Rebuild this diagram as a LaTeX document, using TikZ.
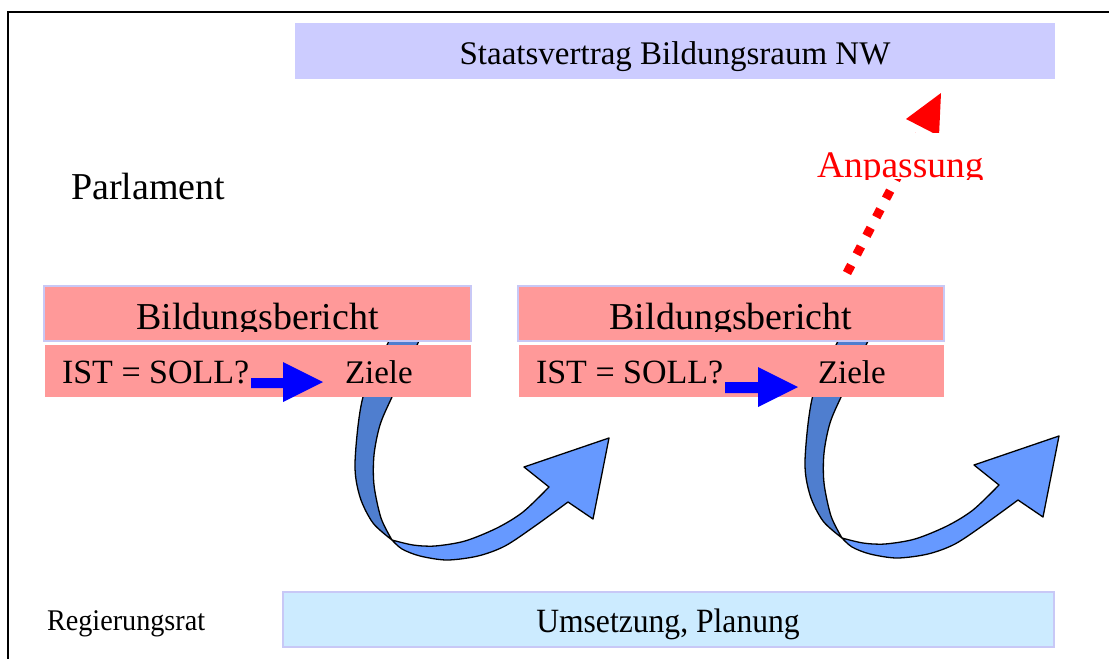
\documentclass[tikz,border=0pt]{standalone}
\usepackage{fontspec}
\setmainfont{Liberation Serif}
\definecolor{lav}{HTML}{CCCCFF}
\definecolor{lavline}{HTML}{C8C8F6}
\definecolor{pinkbox}{HTML}{FF9999}
\definecolor{cyanbox}{HTML}{CCEBFF}
\definecolor{ribdark}{HTML}{4F7ECF}
\definecolor{riblight}{HTML}{6699FF}
\begin{document}
\begin{tikzpicture}[x=1pt,y=-1pt,
  fs/.style={font=\fontsize{#1}{#1}\selectfont},
  txt/.style={inner sep=0pt, outer sep=0pt},
  box/.style={rectangle, inner sep=0pt, outer sep=0pt, anchor=north west},
  topbox/.style={box, fill=lav},
  bberbox/.style={box, fill=pinkbox, draw=lavline, line width=1.5pt},
  rowbox/.style={box, fill=pinkbox},
  botbox/.style={box, fill=cyanbox, draw=lavline, line width=1.5pt},
  ribstroke/.style={draw=black, line width=1.3pt, line join=round},
  bluearrow/.style={fill=blue},
  ribbon/.pic={
    \filldraw[ribstroke, fill=ribdark]
      plot[smooth] coordinates {(403,310) (388,343) (363,397) (355,463) (360,497) (373,523) (392,540)}
      -- plot[smooth] coordinates {(392,540) (381,518) (374,485) (374,455) (380,425) (392,397) (418,343) (433,310)}
      -- cycle;
    \filldraw[ribstroke, fill=riblight]
      plot[smooth] coordinates {(392,540) (413,545) (435,546) (465,541) (497,528) (523,512) (549,487)}
      -- (524,467) -- (609,438) -- (593,519)
      -- plot[smooth] coordinates {(568,502) (535,526) (505,546) (478,556) (447,560) (420,556) (402,549) (392,540)}
      -- cycle;
  }]
\useasboundingbox (0,0) rectangle (1109,659);
% frame
\draw[line width=2pt] (1109,12) -- (8,12) -- (8,659);

% curved ribbons (behind boxes)
\pic at (0,0) {ribbon};
\pic at (450,-2) {ribbon};

% top box
\node[topbox, minimum width=760pt, minimum height=56pt] (sv) at (295,23) {};
\node[txt, fs=33, anchor=base] (svt) at (675,64) {Staatsvertrag Bildungsraum NW};

% Parlament
\node[txt, fs=38, anchor=base west] (parl) at (71,199) {Parlament};

% panel boxes
\node[bberbox, minimum width=427pt, minimum height=55pt] (bb1) at (44,286) {};
\node[bberbox, minimum width=426pt, minimum height=55pt] (bb2) at (518,286) {};
\node[rowbox, minimum width=426pt, minimum height=52pt] (r1) at (45,345) {};
\node[rowbox, minimum width=425pt, minimum height=52pt] (r2) at (519,345) {};

\begin{scope}
  \clip (44,287) rectangle (944,331);
  \node[txt, fs=38, anchor=base] (bbt1) at (257.5,329) {Bildungsbericht};
  \node[txt, fs=38, anchor=base] (bbt2) at (731,329) {Bildungsbericht};
\end{scope}

\node[txt, fs=34, anchor=base west] (ist1) at (62,383) {IST = SOLL?};
\node[txt, fs=33, anchor=base west] (z1) at (345,383) {Ziele};
\node[txt, fs=34, anchor=base west] (ist2) at (536,383) {IST = SOLL?};
\node[txt, fs=33, anchor=base west] (z2) at (818,383) {Ziele};

% blue arrows
\fill[bluearrow] (251,378) -- (283,378) -- (283,362) -- (323,382) -- (283,402) -- (283,388) -- (251,388) -- cycle;
\fill[bluearrow] (725,382) -- (758,382) -- (758,367) -- (798,387) -- (758,407) -- (758,393) -- (725,393) -- cycle;

% red dotted arrow
\coordinate (ps) at (847,273);
\coordinate (pb) at (923,128);
\draw[red, line width=9pt, dash pattern=on 9pt off 12pt] (ps) -- (pb);
\fill[red] (941,93) -- (906,119) -- (939,136) -- cycle;
\begin{scope}
  \clip (800,133) rectangle (1000,179);
  \fill[white] (800,133) rectangle (1000,179);
  \node[txt, fs=37.5, anchor=base west, text=red] (anp) at (817,177) {Anpassung};
\end{scope}

% bottom row
\node[txt, fs=30, xscale=0.94, anchor=base west] (reg) at (47,630) {Regierungsrat};
\node[botbox, minimum width=771pt, minimum height=55pt] (um) at (283,592) {};
\node[txt, fs=34, xscale=0.93, anchor=base] (umt) at (668,632) {Umsetzung, Planung};
\end{tikzpicture}
\end{document}
